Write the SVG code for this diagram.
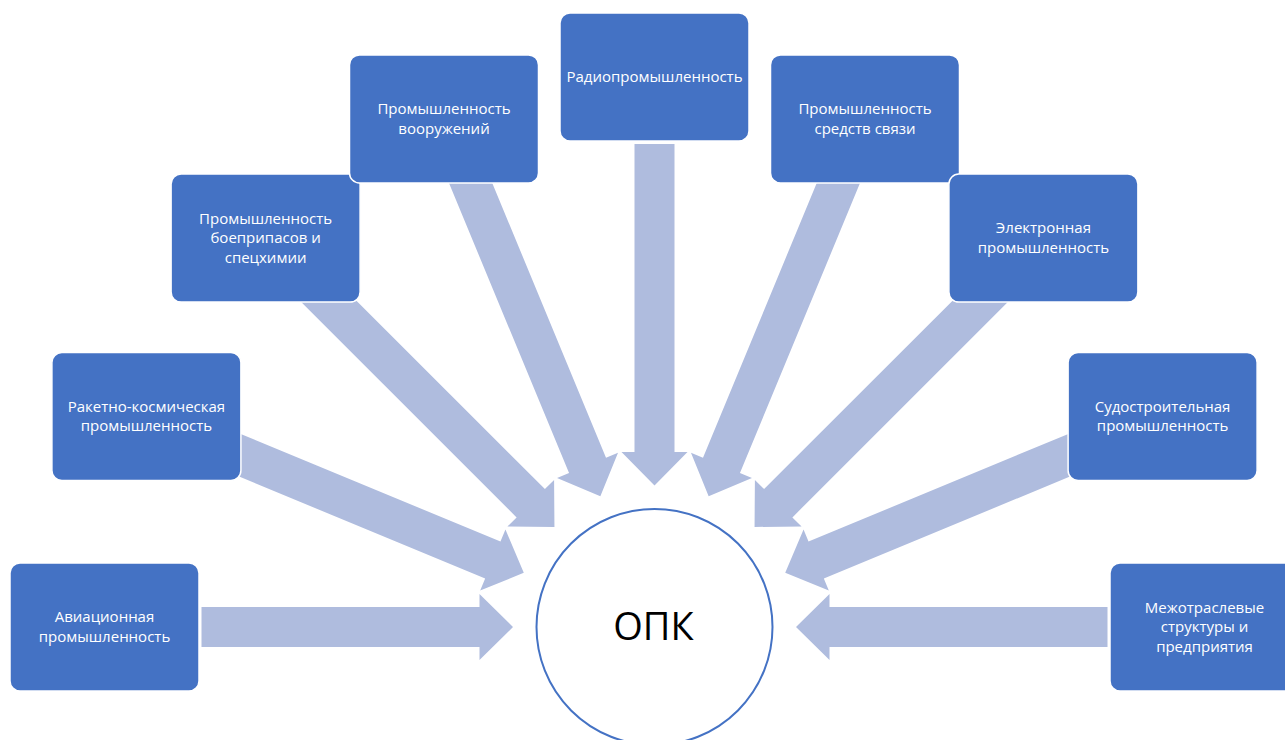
<svg xmlns="http://www.w3.org/2000/svg" width="1285" height="740" viewBox="0 0 1285 740">
  <style>
    .box { fill: #4472C4; stroke: #FFFFFF; stroke-width: 1.5; }
    .lbl { fill: #FFFFFF; font-family: "Open Sans", "Liberation Sans", sans-serif; font-size: 15px; text-anchor: middle; }
    .arr { fill: #AFBCDE; }
    .hub { fill: #FFFFFF; stroke: #4472C4; stroke-width: 2; }
    .hubtxt { fill: #000000; font-family: "Open Sans", "Liberation Sans", sans-serif; font-size: 38px; text-anchor: middle; }
  </style>
  <rect width="1285" height="740" fill="#FFFFFF"/>
  <g id="connectors">
    <path class="arr" transform="translate(654.5,627) rotate(-90)" d="M-20,-453 L20,-453 L20,-175 L33,-175 L0,-141.5 L-33,-175 L-20,-175 Z"/>
    <path class="arr" transform="translate(654.5,627) rotate(-67.5)" d="M-20,-470 L20,-470 L20,-175 L33,-175 L0,-141.5 L-33,-175 L-20,-175 Z"/>
    <path class="arr" transform="translate(654.5,627) rotate(-45)" d="M-20,-490 L20,-490 L20,-175 L33,-175 L0,-141.5 L-33,-175 L-20,-175 Z"/>
    <path class="arr" transform="translate(654.5,627) rotate(-22.5)" d="M-20,-495 L20,-495 L20,-175 L33,-175 L0,-141.5 L-33,-175 L-20,-175 Z"/>
    <path class="arr" transform="translate(654.5,627)" d="M-20,-483 L20,-483 L20,-175 L33,-175 L0,-141.5 L-33,-175 L-20,-175 Z"/>
    <path class="arr" transform="translate(654.5,627) rotate(22.5)" d="M-20,-495 L20,-495 L20,-175 L33,-175 L0,-141.5 L-33,-175 L-20,-175 Z"/>
    <path class="arr" transform="translate(654.5,627) rotate(45)" d="M-20,-490 L20,-490 L20,-175 L33,-175 L0,-141.5 L-33,-175 L-20,-175 Z"/>
    <path class="arr" transform="translate(654.5,627) rotate(67.5)" d="M-20,-470 L20,-470 L20,-175 L33,-175 L0,-141.5 L-33,-175 L-20,-175 Z"/>
    <path class="arr" transform="translate(654.5,627) rotate(90)" d="M-20,-453 L20,-453 L20,-175 L33,-175 L0,-141.5 L-33,-175 L-20,-175 Z"/>
  </g>
  <g id="hub">
    <circle class="hub" cx="654.5" cy="627" r="118"/>
    <text class="hubtxt" x="653.5" y="640">ОПК</text>
  </g>
  <g id="n1">
    <rect class="box" x="10" y="563" width="189" height="128" rx="10"/>
    <text class="lbl"><tspan x="104.5" y="622.2">Авиационная</tspan><tspan x="104.5" y="641.8">промышленность</tspan></text>
  </g>
  <g id="n2">
    <rect class="box" x="51.9" y="352.5" width="189" height="128" rx="10"/>
    <text class="lbl"><tspan x="146.4" y="411.7">Ракетно-космическая</tspan><tspan x="146.4" y="431.2">промышленность</tspan></text>
  </g>
  <g id="n3">
    <rect class="box" x="171.1" y="174.1" width="189" height="128" rx="10"/>
    <text class="lbl"><tspan x="265.6" y="223.6">Промышленность</tspan><tspan x="265.6" y="243.1">боеприпасов и</tspan><tspan x="265.6" y="262.6">спецхимии</tspan></text>
  </g>
  <g id="n4">
    <rect class="box" x="349.5" y="54.9" width="189" height="128" rx="10"/>
    <text class="lbl"><tspan x="444" y="114.1">Промышленность</tspan><tspan x="444" y="133.6">вооружений</tspan></text>
  </g>
  <g id="n5">
    <rect class="box" x="560" y="13" width="189" height="128" rx="10"/>
    <text class="lbl"><tspan x="654.5" y="82">Радиопромышленность</tspan></text>
  </g>
  <g id="n6">
    <rect class="box" x="770.5" y="54.9" width="189" height="128" rx="10"/>
    <text class="lbl"><tspan x="865" y="114.1">Промышленность</tspan><tspan x="865" y="133.6">средств связи</tspan></text>
  </g>
  <g id="n7">
    <rect class="box" x="948.9" y="174.1" width="189" height="128" rx="10"/>
    <text class="lbl"><tspan x="1043.4" y="233.4">Электронная</tspan><tspan x="1043.4" y="252.9">промышленность</tspan></text>
  </g>
  <g id="n8">
    <rect class="box" x="1068.1" y="352.5" width="189" height="128" rx="10"/>
    <text class="lbl"><tspan x="1162.6" y="411.7">Судостроительная</tspan><tspan x="1162.6" y="431.2">промышленность</tspan></text>
  </g>
  <g id="n9">
    <rect class="box" x="1110" y="563" width="189" height="128" rx="10"/>
    <text class="lbl"><tspan x="1204.5" y="612.5">Межотраслевые</tspan><tspan x="1204.5" y="632">структуры и</tspan><tspan x="1204.5" y="651.5">предприятия</tspan></text>
  </g>
</svg>
